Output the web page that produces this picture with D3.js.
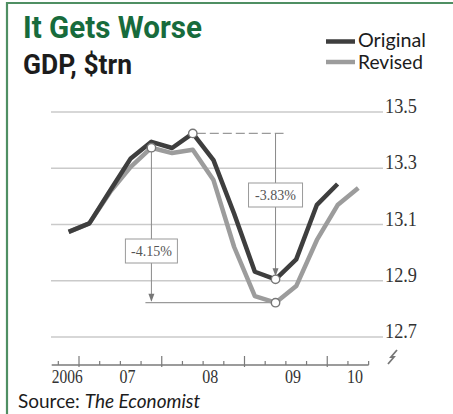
<!DOCTYPE html>
<html><head><meta charset="utf-8">
<script src="https://cdn.jsdelivr.net/npm/d3@7"></script>
<style>html,body{margin:0;padding:0;background:#fff;}svg{display:block;}</style>
</head><body>
<svg id="c" width="453" height="414"></svg>
<script>
// ---- data ----
const quarters = ["2006Q4","2007Q1","2007Q2","2007Q3","2007Q4","2008Q1","2008Q2","2008Q3","2008Q4","2009Q1","2009Q2","2009Q3","2009Q4","2010Q1","2010Q2"];
const original = [13.074,13.104,13.220,13.335,13.394,13.372,13.424,13.329,13.138,12.932,12.905,12.976,13.170,13.244];
const revised  = [13.074,13.104,13.215,13.305,13.373,13.354,13.366,13.258,13.020,12.845,12.822,12.881,13.045,13.169,13.230];
const yTicks = [12.7,12.9,13.1,13.3,13.5];
const yearLabels = ["2006","07","08","09","10"];
const years = [2006,2007,2008,2009,2010];
const seriesNames = ["Original","Revised"];
const annotations = [
  {label:"-4.15%", series:"revised", peak:"2007Q4", trough:"2009Q2"},
  {label:"-3.83%", series:"original", peak:"2008Q2", trough:"2009Q2"}
];
const title = "It Gets Worse", subtitle = "GDP, $trn";

// ---- helpers ----
const qt = q => +q.slice(0,4) + (+q.slice(5)-0.5)/4;   // quarter midpoint
const svg = d3.select("#c");
const x = d3.scaleLinear().domain([2007,2009]).range([79,244.5]);
const y = d3.scaleLinear().domain([12.7,13.5]).range([337,112]);
const axisStart = 2006.67, axisEnd = 2010.5;
const darkC = "#3e3e3e", greyC = "#9c9c9c";

// frame
svg.append("path").attr("d","M7,414V3H453").attr("fill","none").attr("stroke","#4f8f63").attr("stroke-width",2.2);

// title
svg.append("text").text(title).attr("x",23).attr("y",38).attr("font-family","Roboto").attr("font-weight",700)
  .attr("font-size",32).attr("fill","#176b3c").attr("textLength",179).attr("lengthAdjust","spacingAndGlyphs");
svg.append("text").text(subtitle).attr("x",23).attr("y",74).attr("font-family","Roboto").attr("font-weight",700)
  .attr("font-size",28).attr("fill","#1c1c1c").attr("textLength",109).attr("lengthAdjust","spacingAndGlyphs");

// legend
const leg = svg.append("g");
seriesNames.forEach((n,i)=>{
  leg.append("line").attr("x1",326).attr("x2",355).attr("y1",41.5+i*20.5).attr("y2",41.5+i*20.5)
    .attr("stroke", i===0?darkC:greyC).attr("stroke-width",4.5);
  leg.append("text").text(n).attr("x",358).attr("y",47+i*21.5).attr("font-family","Lato").attr("font-size",19)
    .attr("fill","#1c1c1c").attr("textLength", i===0?68:65).attr("lengthAdjust","spacingAndGlyphs");
});

// gridlines + y labels
yTicks.forEach(v=>{
  svg.append("line").attr("x1",51).attr("x2",383).attr("y1",y(v)).attr("y2",y(v))
    .attr("stroke","#cacaca").attr("stroke-width",1.4);
  svg.append("text").text(d3.format(".1f")(v)).attr("x",385).attr("y",y(v)+1)
    .attr("font-family","Liberation Serif").attr("font-size",21).attr("fill","#333")
    .attr("textLength",32).attr("lengthAdjust","spacingAndGlyphs");
});

// x axis
const ay = 365;
svg.append("line").attr("x1",x(axisStart)).attr("x2",x(axisEnd)).attr("y1",ay).attr("y2",ay)
  .attr("stroke","#7a7a7a").attr("stroke-width",1.4);
const qTicks = d3.range(2006.75, axisEnd+0.001, 0.25);
qTicks.forEach(t=>{
  const major = Math.abs(t-Math.round(t))<1e-6;
  svg.append("line").attr("x1",x(t)).attr("x2",x(t)).attr("y1",major?ay-9:ay-4).attr("y2",major?ay+2:ay)
    .attr("stroke","#7a7a7a").attr("stroke-width",1.2);
});
years.forEach((yr,i)=>{
  const lo = Math.max(yr,axisStart), hi = Math.min(yr+1,axisEnd);
  const t = svg.append("text").text(yearLabels[i]).attr("y",383).attr("font-family","Liberation Serif")
    .attr("font-size",19).attr("fill","#333");
  if(i===0){ t.attr("x",x(axisStart)).attr("text-anchor","start").attr("textLength",31).attr("lengthAdjust","spacingAndGlyphs"); }
  else { t.attr("x",(x(lo)+x(hi))/2+7).attr("text-anchor","middle").attr("textLength",16).attr("lengthAdjust","spacingAndGlyphs"); }
});
// axis break symbol
svg.append("path").attr("d","M388,364 L394,357 L391,357 L397,350").attr("fill","none").attr("stroke","#777").attr("stroke-width",1.8);

// annotations (under lines)
const series = {original, revised};
const valAt = (s,q)=>series[s][quarters.indexOf(q)];
const ann = svg.append("g");
function arrow(cx,tipY){
  ann.append("path").attr("d",`M${cx-3},${tipY-8}L${cx+3},${tipY-8}L${cx},${tipY}Z`).attr("fill","#777");
}
// -4.15% (revised)
{
  const a = annotations[0];
  const px = x(qt(a.peak)), py = y(valAt(a.series,a.peak));
  const tx = x(qt(a.trough)), ty = y(valAt(a.series,a.trough));
  ann.append("line").attr("x1",px).attr("x2",px).attr("y1",py).attr("y2",ty-2).attr("stroke","#8a8a8a").attr("stroke-width",1);
  ann.append("line").attr("x1",px-6).attr("x2",tx).attr("y1",ty).attr("y2",ty).attr("stroke","#9a9a9a").attr("stroke-width",1.2);
  arrow(px,ty-1);
  const by = 251;
  ann.append("rect").attr("x",px-26).attr("y",by-12).attr("width",52).attr("height",24).attr("fill","#fff").attr("stroke","#9a9a9a").attr("stroke-width",1);
  ann.append("text").text(a.label).attr("x",px).attr("y",by+5).attr("text-anchor","middle").attr("font-family","Liberation Serif").attr("font-size",14).attr("fill","#555");
}
// -3.83% (original)
{
  const a = annotations[1];
  const px = x(qt(a.peak)), py = y(valAt(a.series,a.peak));
  const tx = x(qt(a.trough)), ty = y(valAt(a.series,a.trough));
  ann.append("line").attr("x1",px+4).attr("x2",tx+8).attr("y1",py).attr("y2",py).attr("stroke","#9a9a9a").attr("stroke-width",1.2).attr("stroke-dasharray","9,4");
  ann.append("line").attr("x1",tx).attr("x2",tx).attr("y1",py).attr("y2",ty-4).attr("stroke","#8a8a8a").attr("stroke-width",1);
  arrow(tx,ty-3);
  const by = 195;
  ann.append("rect").attr("x",tx-27).attr("y",by-12).attr("width",54).attr("height",24).attr("fill","#fff").attr("stroke","#9a9a9a").attr("stroke-width",1);
  ann.append("text").text(a.label).attr("x",tx).attr("y",by+5).attr("text-anchor","middle").attr("font-family","Liberation Serif").attr("font-size",14).attr("fill","#555");
}

// lines
const line = d3.line().x((d,i)=>x(qt(quarters[i]))).y(d=>y(d)).curve(d3.curveLinear);
svg.append("path").datum(revised).attr("d",line).attr("fill","none").attr("stroke",greyC).attr("stroke-width",4.5).attr("stroke-linejoin","round");
svg.append("path").datum(original).attr("d",line).attr("fill","none").attr("stroke",darkC).attr("stroke-width",4.5).attr("stroke-linejoin","round");

// markers
annotations.forEach(a=>{
  [a.peak,a.trough].forEach(q=>{
    svg.append("circle").attr("cx",x(qt(q))).attr("cy",y(valAt(a.series,q))).attr("r",4.2)
      .attr("fill","#fff").attr("stroke","#777").attr("stroke-width",1.4);
  });
});

// source
const src = svg.append("text").attr("x",18).attr("y",408).attr("font-family","Lato").attr("font-size",19).attr("fill","#1c1c1c");
src.append("tspan").text("Source: ");
src.append("tspan").text("The Economist").attr("font-style","italic");
</script>
</body></html>
